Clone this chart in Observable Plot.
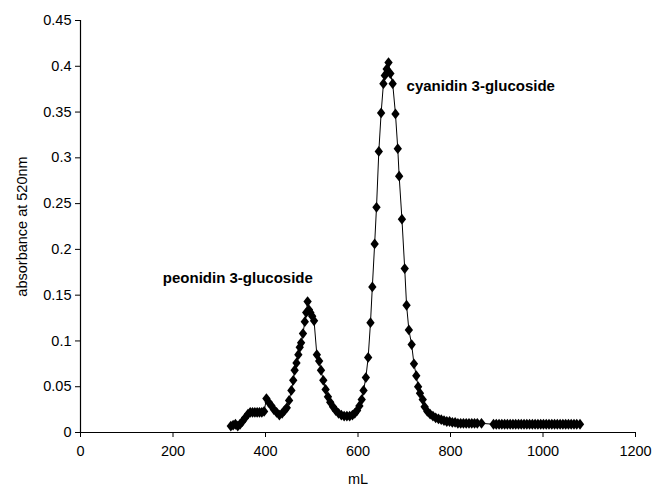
<!DOCTYPE html>
<html>
<head>
<meta charset="utf-8">
<script src="https://cdn.jsdelivr.net/npm/d3@7"></script>
<script src="https://cdn.jsdelivr.net/npm/@observablehq/plot@0.6"></script>
<style>
  html, body { margin: 0; padding: 0; background: #fff; }
  #chart svg { font-family: "Liberation Sans", Arial, sans-serif; }
</style>
</head>
<body>
<div id="chart"></div>
<script>
// Elution volume (mL)
const volume = [
  325, 330, 335, 340, 345, 350, 356, 362, 367, 372, 377, 382, 387, 392, 397,
  402, 407, 413, 418, 424, 430, 436, 441, 446, 451, 456, 460, 463, 467, 471,
  474, 477, 481, 485, 488, 491, 494, 497, 501, 505, 511, 516, 520, 525, 530,
  535, 540, 546, 552, 558, 564, 570, 576, 582, 588, 593, 598, 603, 608, 612,
  617, 622, 627, 631, 636, 640, 645, 650, 655, 658, 662, 666, 670, 675, 681,
  686, 689, 695, 701, 705, 710, 716, 721, 726, 730, 734, 740, 744, 750, 756,
  762, 768, 774, 780, 786, 792, 798, 804, 810, 816, 822, 828, 834, 840, 846,
  852, 858, 867,
  893, 899, 905, 911, 917, 923, 929, 935, 941, 947, 953, 959, 965, 971, 977,
  983, 989, 995, 1001, 1007, 1013, 1019, 1025, 1031, 1037, 1043, 1049, 1055,
  1061, 1067, 1073, 1080
];
// Absorbance at 520 nm
const absorbance = [
  0.007, 0.008, 0.009, 0.007, 0.009, 0.012, 0.016, 0.020, 0.022, 0.022, 0.022, 0.022, 0.022, 0.022, 0.023,
  0.037, 0.033, 0.029, 0.025, 0.022, 0.019, 0.021, 0.024, 0.027, 0.035, 0.046, 0.057, 0.068, 0.076, 0.085,
  0.093, 0.098, 0.108, 0.121, 0.131, 0.143, 0.134, 0.131, 0.127, 0.122, 0.085, 0.078, 0.068, 0.057, 0.047,
  0.039, 0.033, 0.028, 0.024, 0.021, 0.019, 0.018, 0.018, 0.018, 0.019, 0.021, 0.024, 0.029, 0.036, 0.046,
  0.060, 0.082, 0.120, 0.159, 0.206, 0.246, 0.307, 0.349, 0.381, 0.390, 0.397, 0.404, 0.392, 0.381, 0.348,
  0.310, 0.280, 0.233, 0.179, 0.139, 0.112, 0.096, 0.075, 0.062, 0.050, 0.043, 0.036, 0.028, 0.023, 0.020,
  0.018, 0.016, 0.015, 0.014, 0.013, 0.012, 0.012, 0.011, 0.011, 0.010, 0.010, 0.010, 0.010, 0.010, 0.010,
  0.010, 0.010, 0.010,
  0.009, 0.009, 0.009, 0.009, 0.009, 0.009, 0.009, 0.009, 0.009, 0.009, 0.009, 0.009, 0.009, 0.009, 0.009,
  0.009, 0.009, 0.009, 0.009, 0.009, 0.009, 0.009, 0.009, 0.009, 0.009, 0.009, 0.009, 0.009,
  0.009, 0.009, 0.009, 0.009
];
const xTicks = [0, 200, 400, 600, 800, 1000, 1200];
const yTicks = [0, 0.05, 0.1, 0.15, 0.2, 0.25, 0.3, 0.35, 0.4, 0.45];
const peakNames = ["peonidin 3-glucoside", "cyanidin 3-glucoside"];
const peakLabelX = [178, 705];
const peakLabelY = [0.168, 0.378];

const data = volume.map((v, i) => ({ v, a: absorbance[i] }));
const labels = peakNames.map((t, i) => ({ t, x: peakLabelX[i], y: peakLabelY[i] }));

const tallDiamond = {
  draw(context, size) {
    const s = Math.sqrt(size / Math.PI);
    const w = s * 0.85, h = s * 1.1;
    context.moveTo(0, -h);
    context.lineTo(w, 0);
    context.lineTo(0, h);
    context.lineTo(-w, 0);
    context.closePath();
  }
};

const chart = Plot.plot({
  width: 655,
  height: 487,
  marginLeft: 80,
  marginRight: 20,
  marginTop: 20,
  marginBottom: 55,
  style: { fontFamily: "'Liberation Sans', Arial, sans-serif", fontSize: "14.5px", color: "#000", background: "#fff" },
  x: { domain: [0, 1200] },
  y: { domain: [0, 0.45] },
  marks: [
    Plot.axisX({ ticks: xTicks, tickSize: 5, tickPadding: 8, fontSize: 14.5, tickFormat: d => String(d), label: "mL", labelAnchor: "center", labelArrow: "none", labelOffset: 51 }),
    Plot.axisY({ ticks: yTicks, tickSize: 5, tickPadding: 4, fontSize: 14.5, tickFormat: d => String(+d.toFixed(2)), label: "absorbance at 520nm", labelAnchor: "center", labelArrow: "none", labelOffset: 64 }),
    Plot.ruleY([0], { stroke: "#000", strokeWidth: 1.2 }),
    Plot.ruleX([0], { stroke: "#000", strokeWidth: 1.2 }),
    Plot.line(data, { x: "v", y: "a", stroke: "#000", strokeWidth: 1 }),
    Plot.dot(data, { x: "v", y: "a", symbol: tallDiamond, r: 4.9, fill: "#000", stroke: "none" }),
    Plot.text(labels, { x: "x", y: "y", text: "t", textAnchor: "start", fontWeight: "bold", fontSize: 15, fill: "#000" })
  ]
});
document.getElementById("chart").appendChild(chart);
</script>
</body>
</html>
